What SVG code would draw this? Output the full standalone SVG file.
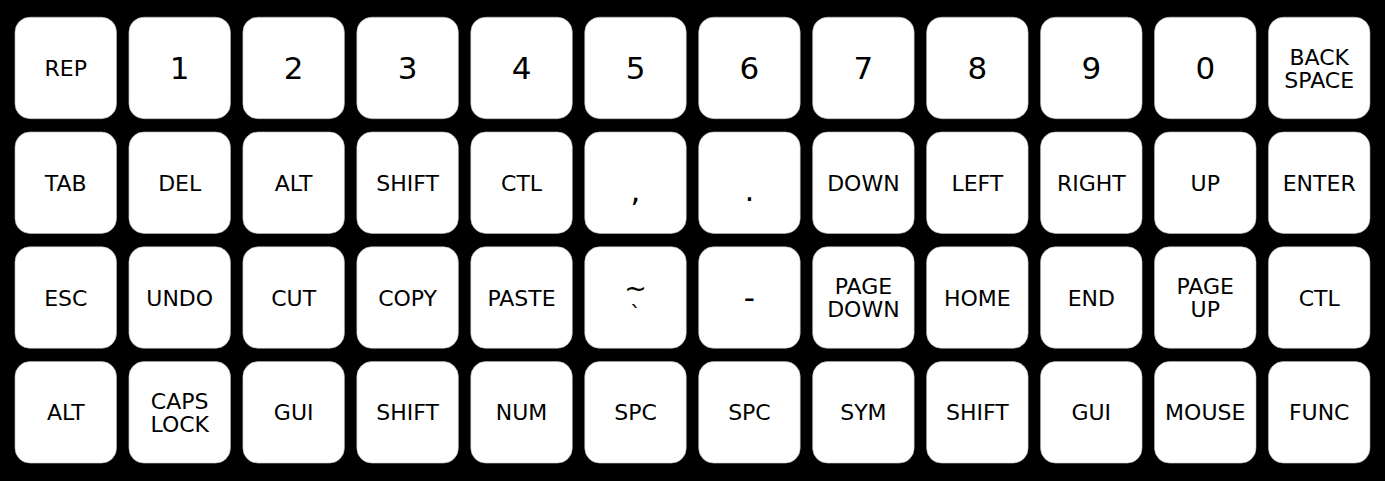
<svg xmlns="http://www.w3.org/2000/svg" width="1385" height="481" viewBox="0 0 1385 481">
<style>
.k{fill:#fff;stroke:#bbb;stroke-width:0.6}
text{font-family:"DejaVu Sans","Liberation Sans",sans-serif;fill:#000;text-anchor:middle;font-size:22px}
.n{font-size:31px}
</style>
<defs><rect id="key" class="k" width="101.5" height="101.5" rx="15" ry="15"/></defs>
<rect width="1385" height="481" fill="#000"/>
<!-- row 1 -->
<g id="k-rep"><use href="#key" x="15" y="17.2"/><text x="65.75" y="76">REP</text></g>
<g id="k-1"><use href="#key" x="128.95" y="17.2"/><text class="n" x="179.7" y="79.3">1</text></g>
<g id="k-2"><use href="#key" x="242.9" y="17.2"/><text class="n" x="293.65" y="79.3">2</text></g>
<g id="k-3"><use href="#key" x="356.85" y="17.2"/><text class="n" x="407.6" y="79.3">3</text></g>
<g id="k-4"><use href="#key" x="470.8" y="17.2"/><text class="n" x="521.55" y="79.3">4</text></g>
<g id="k-5"><use href="#key" x="584.75" y="17.2"/><text class="n" x="635.5" y="79.3">5</text></g>
<g id="k-6"><use href="#key" x="698.7" y="17.2"/><text class="n" x="749.45" y="79.3">6</text></g>
<g id="k-7"><use href="#key" x="812.65" y="17.2"/><text class="n" x="863.4" y="79.3">7</text></g>
<g id="k-8"><use href="#key" x="926.6" y="17.2"/><text class="n" x="977.35" y="79.3">8</text></g>
<g id="k-9"><use href="#key" x="1040.55" y="17.2"/><text class="n" x="1091.3" y="79.3">9</text></g>
<g id="k-0"><use href="#key" x="1154.5" y="17.2"/><text class="n" x="1205.25" y="79.3">0</text></g>
<g id="k-backspace"><use href="#key" x="1268.45" y="17.2"/><text x="1319.2" y="64.5">BACK</text><text x="1319.2" y="87.5">SPACE</text></g>
<!-- row 2 -->
<g id="k-tab"><use href="#key" x="15" y="132"/><text x="65.75" y="190.8">TAB</text></g>
<g id="k-del"><use href="#key" x="128.95" y="132"/><text x="179.7" y="190.8">DEL</text></g>
<g id="k-alt1"><use href="#key" x="242.9" y="132"/><text x="293.65" y="190.8">ALT</text></g>
<g id="k-shift1"><use href="#key" x="356.85" y="132"/><text x="407.6" y="190.8">SHIFT</text></g>
<g id="k-ctl1"><use href="#key" x="470.8" y="132"/><text x="521.55" y="190.8">CTL</text></g>
<g id="k-comma"><use href="#key" x="584.75" y="132"/><text class="n" x="635.5" y="201">,</text></g>
<g id="k-dot"><use href="#key" x="698.7" y="132"/><text class="n" x="749.45" y="201">.</text></g>
<g id="k-down"><use href="#key" x="812.65" y="132"/><text x="863.4" y="190.8">DOWN</text></g>
<g id="k-left"><use href="#key" x="926.6" y="132"/><text x="977.35" y="190.8">LEFT</text></g>
<g id="k-right"><use href="#key" x="1040.55" y="132"/><text x="1091.3" y="190.8">RIGHT</text></g>
<g id="k-up"><use href="#key" x="1154.5" y="132"/><text x="1205.25" y="190.8">UP</text></g>
<g id="k-enter"><use href="#key" x="1268.45" y="132"/><text x="1319.2" y="190.8">ENTER</text></g>
<!-- row 3 -->
<g id="k-esc"><use href="#key" x="15" y="246.8"/><text x="65.75" y="305.6">ESC</text></g>
<g id="k-undo"><use href="#key" x="128.95" y="246.8"/><text x="179.7" y="305.6">UNDO</text></g>
<g id="k-cut"><use href="#key" x="242.9" y="246.8"/><text x="293.65" y="305.6">CUT</text></g>
<g id="k-copy"><use href="#key" x="356.85" y="246.8"/><text x="407.6" y="305.6">COPY</text></g>
<g id="k-paste"><use href="#key" x="470.8" y="246.8"/><text x="521.55" y="305.6">PASTE</text></g>
<g id="k-tilde"><use href="#key" x="584.75" y="246.8"/><text x="635.5" y="297" style="font-size:27px">~</text><text x="635.5" y="321">`</text></g>
<g id="k-minus"><use href="#key" x="698.7" y="246.8"/><text class="n" x="749.45" y="307.5">-</text></g>
<g id="k-pgdn"><use href="#key" x="812.65" y="246.8"/><text x="863.4" y="294.1">PAGE</text><text x="863.4" y="317.1">DOWN</text></g>
<g id="k-home"><use href="#key" x="926.6" y="246.8"/><text x="977.35" y="305.6">HOME</text></g>
<g id="k-end"><use href="#key" x="1040.55" y="246.8"/><text x="1091.3" y="305.6">END</text></g>
<g id="k-pgup"><use href="#key" x="1154.5" y="246.8"/><text x="1205.25" y="294.1">PAGE</text><text x="1205.25" y="317.1">UP</text></g>
<g id="k-ctl2"><use href="#key" x="1268.45" y="246.8"/><text x="1319.2" y="305.6">CTL</text></g>
<!-- row 4 -->
<g id="k-alt2"><use href="#key" x="15" y="361.6"/><text x="65.75" y="420.4">ALT</text></g>
<g id="k-caps"><use href="#key" x="128.95" y="361.6"/><text x="179.7" y="408.9">CAPS</text><text x="179.7" y="431.9">LOCK</text></g>
<g id="k-gui1"><use href="#key" x="242.9" y="361.6"/><text x="293.65" y="420.4">GUI</text></g>
<g id="k-shift2"><use href="#key" x="356.85" y="361.6"/><text x="407.6" y="420.4">SHIFT</text></g>
<g id="k-num"><use href="#key" x="470.8" y="361.6"/><text x="521.55" y="420.4">NUM</text></g>
<g id="k-spc1"><use href="#key" x="584.75" y="361.6"/><text x="635.5" y="420.4">SPC</text></g>
<g id="k-spc2"><use href="#key" x="698.7" y="361.6"/><text x="749.45" y="420.4">SPC</text></g>
<g id="k-sym"><use href="#key" x="812.65" y="361.6"/><text x="863.4" y="420.4">SYM</text></g>
<g id="k-shift3"><use href="#key" x="926.6" y="361.6"/><text x="977.35" y="420.4">SHIFT</text></g>
<g id="k-gui2"><use href="#key" x="1040.55" y="361.6"/><text x="1091.3" y="420.4">GUI</text></g>
<g id="k-mouse"><use href="#key" x="1154.5" y="361.6"/><text x="1205.25" y="420.4">MOUSE</text></g>
<g id="k-func"><use href="#key" x="1268.45" y="361.6"/><text x="1319.2" y="420.4">FUNC</text></g>
<g id="connectors"/>
</svg>
